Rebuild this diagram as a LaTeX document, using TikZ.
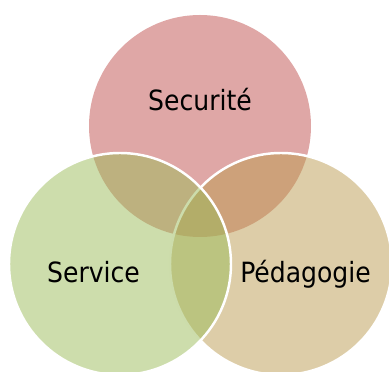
\documentclass[tikz,border=0pt]{standalone}
\usepackage{fontspec}
\setmainfont{DejaVu Sans Condensed}
\definecolor{secured}{RGB}{192,80,77}
\definecolor{servgreen}{RGB}{155,187,89}
\definecolor{pedatan}{RGB}{187,155,81}
\begin{document}
\begin{tikzpicture}[x=0.03cm, y=0.03cm, line join=round, line cap=round,
	font=\fontsize{23.8}{28}\selectfont,
	ring/.style={fill opacity=0.5, draw=white, line width=2.1pt},
	label/.style={anchor=base, text=black}]
	\useasboundingbox (0,0) rectangle (389,372);
	\path (200,246)coordinate(S) (120,108)coordinate(L) (281,108)coordinate(R);

\fill[secured, fill opacity=0.5] (S) circle (111);
\draw[ring, fill=pedatan] (R) circle (111);
\draw[ring, fill=servgreen] (L) circle (111);
	\node[label] (secu) at (200,261) {Securité};
	\node[label] (serv) at (93.5,89) {Service};
	\node[label] (peda) at (305.5,89) {Pédagogie};
\end{tikzpicture}
\end{document}
